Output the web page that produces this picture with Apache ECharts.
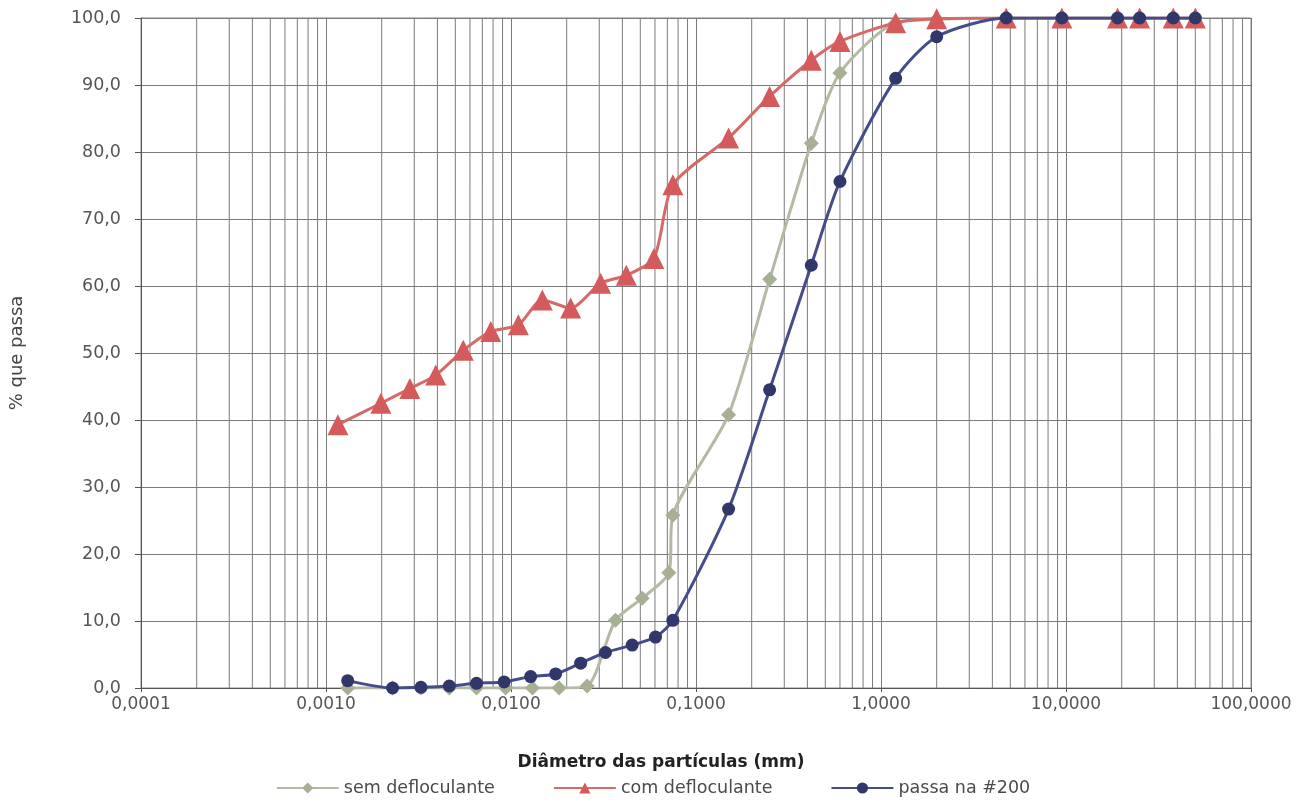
<!DOCTYPE html>
<html>
<head>
<meta charset="utf-8">
<title>Curva granulométrica</title>
<script src="https://cdn.jsdelivr.net/npm/echarts@6/dist/echarts.min.js"></script>
<style>
    html, body { margin: 0; padding: 0; background: #fff; }
    #chart { width: 1306px; height: 803px; }
</style>
</head>
<body>
<div id="chart"></div>
<script>
// diâmetro (mm) e % que passa
const semX = [0.00131, 0.00229, 0.00326, 0.00464, 0.00651, 0.00935, 0.01306, 0.0182, 0.0258, 0.0367, 0.0512, 0.0713, 0.075, 0.15, 0.25, 0.42, 0.6, 1.2, 2.0, 4.75, 9.5, 19, 25, 38, 50];
const semY = [0, 0, 0, 0, 0, 0, 0, 0, 0.3, 10.1, 13.4, 17.2, 25.8, 40.8, 61.0, 81.3, 91.8, 99.3, 99.8, 100, 100, 100, 100, 100, 100];

const comX = [0.00116, 0.00198, 0.00284, 0.00392, 0.00552, 0.00777, 0.01096, 0.01477, 0.0210, 0.0305, 0.0420, 0.0592, 0.075, 0.15, 0.25, 0.42, 0.6, 1.2, 2.0, 4.75, 9.5, 19, 25, 38, 50];
const comY = [39.3, 42.5, 44.7, 46.7, 50.4, 53.2, 54.2, 57.9, 56.7, 60.4, 61.6, 64.1, 75.1, 82.1, 88.3, 93.7, 96.5, 99.3, 99.9, 100, 100, 100, 100, 100, 100];

const passaX = [0.00131, 0.00229, 0.00326, 0.00464, 0.00651, 0.00918, 0.01277, 0.01742, 0.0238, 0.0324, 0.0452, 0.0604, 0.075, 0.15, 0.25, 0.42, 0.6, 1.2, 2.0, 4.75, 9.5, 19, 25, 38, 50];
const passaY = [1.1, 0.0, 0.1, 0.3, 0.7, 0.9, 1.7, 2.1, 3.7, 5.3, 6.4, 7.6, 10.1, 26.7, 44.5, 63.1, 75.6, 91.0, 97.2, 100, 100, 100, 100, 100, 100];

const seriesNames = ['sem defloculante', 'com defloculante', 'passa na #200'];

function pairs(xs, ys) {
    return xs.map((x, i) => [x, ys[i]]);
}

// linhas de grade secundárias (2..9 em cada década), desenhadas como uma série
let minorGrid = [];
for (let d = -4; d <= 1; d++) {
    for (let m = 2; m <= 9; m++) {
        let v = m * Math.pow(10, d);
        minorGrid.push([v, 0], [v, 100], [v, '-']);
    }
}

const fontName = 'DejaVu Sans, Verdana, sans-serif';

let myChart = echarts.init(document.getElementById('chart'));
let option = {
    animation: false,
    grid: {
        left: 140,
        right: 55,
        top: 18,
        bottom: 115,
        show: true,
        borderColor: '#8a8a8a',
        borderWidth: 1
    },
    legend: {
        data: seriesNames,
        bottom: 1,
        left: 'center',
        itemWidth: 62,
        itemHeight: 14,
        itemGap: 58,
        textStyle: {fontFamily: fontName, fontSize: 17.5, color: '#4a4a4a'}
    },
    xAxis: {
        type: 'log',
        logBase: 10,
        min: 0.0001,
        max: 100,
        name: 'Diâmetro das partículas (mm)',
        nameLocation: 'middle',
        nameGap: 66,
        nameTextStyle: {
            fontFamily: fontName,
            fontSize: 17,
            fontWeight: 'bold',
            color: '#222',
            padding: [0, 70, 0, 0]
        },
        axisLine: {lineStyle: {color: '#555', width: 1}},
        axisTick: {show: true, inside: false, length: 4, lineStyle: {color: '#555'}},
        axisLabel: {
            fontFamily: fontName,
            fontSize: 17,
            color: '#555',
            margin: 8,
            formatter: function (value) {
                return value.toFixed(4).replace('.', ',');
            }
        },
        splitLine: {show: true, lineStyle: {color: '#7a7a7a', width: 1}}
    },
    yAxis: {
        type: 'value',
        min: 0,
        max: 100,
        interval: 10,
        name: '% que passa',
        nameLocation: 'middle',
        nameGap: 115,
        nameTextStyle: {fontFamily: fontName, fontSize: 18, color: '#444'},
        axisLine: {show: true, lineStyle: {color: '#555', width: 1}},
        axisTick: {show: true, inside: false, length: 6, lineStyle: {color: '#555'}},
        axisLabel: {
            fontFamily: fontName,
            fontSize: 17.5,
            color: '#555',
            margin: 20,
            formatter: function (value) {
                return value.toFixed(1).replace('.', ',');
            }
        },
        splitLine: {show: true, lineStyle: {color: '#7a7a7a', width: 1}}
    },
    series: [
        {
            name: 'grade',
            type: 'line',
            data: minorGrid,
            z: 0,
            silent: true,
            symbol: 'none',
            connectNulls: false,
            lineStyle: {color: '#7a7a7a', width: 1},
            emphasis: {disabled: true},
            tooltip: {show: false}
        },
        {
            name: seriesNames[0],
            type: 'line',
            data: pairs(semX, semY),
            smooth: 0.25,
            symbol: 'diamond',
            symbolSize: 15,
            z: 3,
            lineStyle: {color: '#b3b9a2', width: 3},
            itemStyle: {color: '#a7b094'}
        },
        {
            name: seriesNames[1],
            type: 'line',
            data: pairs(comX, comY),
            smooth: 0.25,
            symbol: 'triangle',
            symbolSize: 21,
            z: 4,
            lineStyle: {color: '#d56b69', width: 3},
            itemStyle: {color: '#d45a5c'}
        },
        {
            name: seriesNames[2],
            type: 'line',
            data: pairs(passaX, passaY),
            smooth: 0.25,
            symbol: 'circle',
            symbolSize: 13,
            z: 5,
            lineStyle: {color: '#454c8a', width: 3},
            itemStyle: {color: '#31376b'}
        }
    ]
};
if (option && typeof option === "object") {
    myChart.setOption(option, true);
}
</script>
</body>
</html>
